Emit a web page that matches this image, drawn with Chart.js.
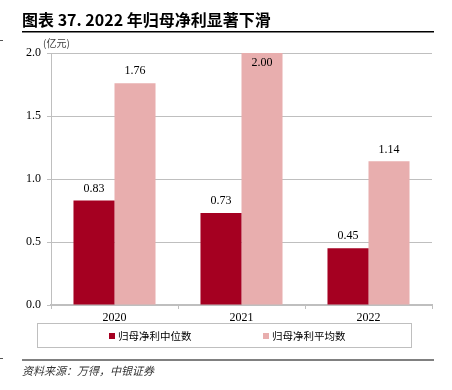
<!DOCTYPE html>
<html>
<head>
<meta charset="utf-8">
<script src="https://cdn.jsdelivr.net/npm/chart.js@4"></script>
<style>
  html, body { margin: 0; padding: 0; background: #fff; }
  #wrap { position: relative; width: 452px; height: 390px; }
</style>
</head>
<body>
<div id="wrap"><canvas id="chart" width="452" height="390"></canvas></div>
<script>
// 数据
const years = ['2020', '2021', '2022'];
const medianProfit = [0.83, 0.73, 0.45]; // 归母净利中位数
const meanProfit = [1.76, 2.00, 1.14];   // 归母净利平均数
const yTicks = [0, 0.5, 1.0, 1.5, 2.0];

const serif = '"Liberation Serif", "Times New Roman", serif';
const cjk = '"Noto Sans CJK SC", sans-serif';

// 标题、来源、图例、数据标签
const decor = {
    id: 'decor',
    afterDraw(chart) {
        const c = chart.ctx;
        c.save();
        c.fillStyle = '#000';
        c.font = 'bold 16px ' + cjk;
        c.textBaseline = 'alphabetic';
        c.fillText('图表 37. 2022 年归母净利显著下滑', 22, 26);
        c.fillRect(22, 31, 412, 1.5);

        c.fillStyle = '#555';
        c.fillRect(0, 40, 3, 1);
        c.fillRect(0, 358, 3, 1);
        c.fillStyle = '#808080';
        c.fillRect(22, 359, 412, 2);

        c.fillStyle = '#333';
        c.font = 'italic 11px ' + cjk;
        c.fillText('资料来源：万得，中银证券', 22, 375);

        c.fillStyle = '#444';
        c.font = '10px ' + cjk;
        c.fillText('(亿元)', 43, 47);

        // 图例
        c.strokeStyle = '#bfbfbf';
        c.lineWidth = 1;
        c.strokeRect(37.5, 323.5, 374, 24);
        const legendX = [109, 263];
        c.font = '10.5px ' + cjk;
        c.textBaseline = 'middle';
        chart.data.datasets.forEach((ds, i) => {
            c.fillStyle = ds.backgroundColor;
            c.fillRect(legendX[i], 333, 6, 6);
            c.fillStyle = '#000';
            c.fillText(ds.label, legendX[i] + 9, 336);
        });

        // 数据标签
        c.fillStyle = '#000';
        c.font = '12px ' + serif;
        c.textAlign = 'center';
        c.textBaseline = 'bottom';
        chart.data.datasets.forEach((ds, i) => {
            chart.getDatasetMeta(i).data.forEach((bar, j) => {
                let y = bar.y - 6;
                if (y - 12 < chart.chartArea.top) y = bar.y + 16;
                c.fillText(ds.data[j].toFixed(2), bar.x, y);
            });
        });
        c.restore();
    }
};

new Chart(document.getElementById('chart').getContext('2d'), {
    type: 'bar',
    data: {
        labels: years,
        datasets: [
            { label: '归母净利中位数', data: medianProfit, backgroundColor: '#A50021' },
            { label: '归母净利平均数', data: meanProfit, backgroundColor: '#E8AEAE' }
        ]
    },
    options: {
        responsive: false,
        animation: false,
        devicePixelRatio: 1,
        categoryPercentage: 0.646,
        barPercentage: 1,
        layout: { padding: { left: 0, right: 20, top: 53, bottom: 67 } },
        plugins: {
            tooltip: { enabled: false },
            legend: { display: false }
        },
        scales: {
            x: {
                grid: { drawOnChartArea: false, offset: true, tickLength: 4, color: '#bfbfbf' },
                border: { color: '#bfbfbf', width: 2 },
                ticks: { color: '#000', font: { family: serif, size: 12 }, padding: 2 },
                afterFit(s) { s.height = 18; }
            },
            y: {
                min: 0,
                max: 2,
                afterBuildTicks(s) { s.ticks = yTicks.map(v => ({ value: v })); },
                grid: { color: '#bfbfbf', tickLength: 4 },
                border: { color: '#bfbfbf' },
                ticks: {
                    color: '#000',
                    font: { family: serif, size: 12 },
                    padding: 6,
                    callback: v => v.toFixed(1)
                },
                afterFit(s) { s.width = 51; }
            }
        }
    },
    plugins: [decor]
});
</script>
</body>
</html>
